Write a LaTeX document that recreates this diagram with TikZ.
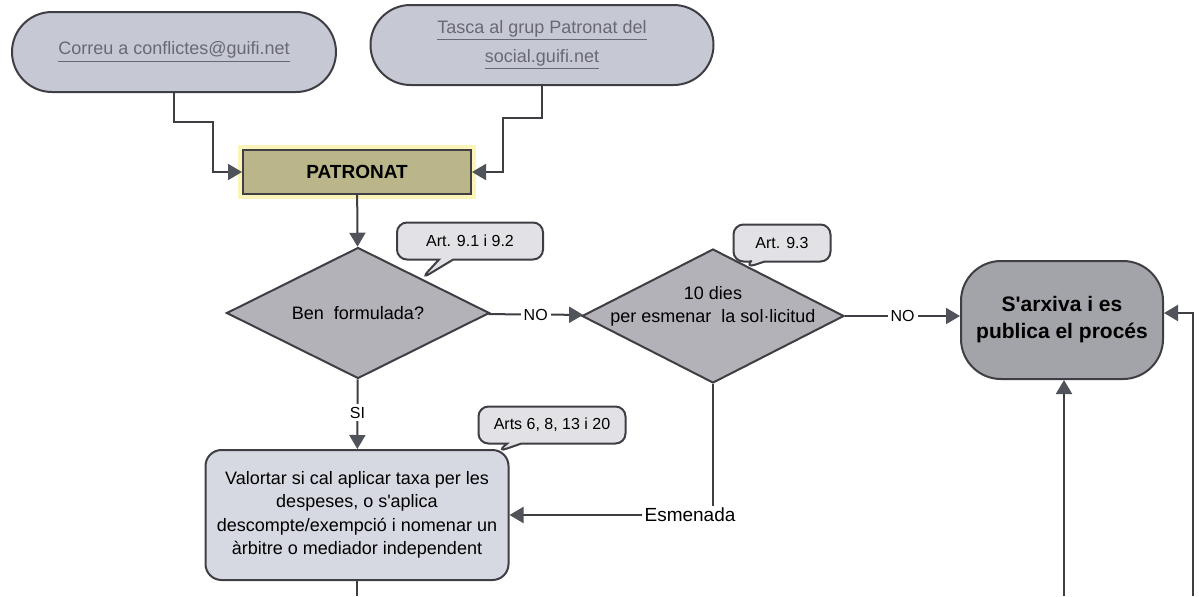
\documentclass[tikz,border=0pt]{standalone}
\usepackage{fontspec}
\setmainfont{Liberation Sans}
\usetikzlibrary{shapes.geometric,shapes.misc,shapes.callouts,arrows.meta}
\definecolor{myoval}{RGB}{198,201,212}
\definecolor{myovaltext}{RGB}{105,105,118}
\definecolor{mykhaki}{RGB}{186,182,138}
\definecolor{myglow}{RGB}{250,244,185}
\definecolor{mydiamond}{RGB}{178,178,184}
\definecolor{mynote}{RGB}{226,226,230}
\definecolor{mybox}{RGB}{214,217,226}
\definecolor{myend}{RGB}{163,163,170}
\definecolor{myline}{RGB}{62,62,68}
\definecolor{mytip}{RGB}{80,83,90}
\newcommand{\px}{0.5pt}
\newcommand{\lnk}[1]{\underline{#1}}
\newcommand{\ap}{\textquotesingle}
\tikzset{
    common/.style={draw=myline, line width=1pt, align=center, inner sep=2pt},
    oval/.style={common, rounded rectangle, fill=myoval, text=myovaltext,
        font=\fontsize{9}{14.5}\selectfont, minimum height=80*\px},
    head/.style={common, rectangle, fill=mykhaki, font=\bfseries\fontsize{9.5}{12}\selectfont,
        minimum width=228*\px, minimum height=44*\px, preaction={draw=myglow, line width=5pt}},
    decision/.style={common, diamond, fill=mydiamond, inner sep=0pt},
    dtext/.style={align=center, font=\fontsize{9}{11.5}\selectfont},
    note/.style={common, rectangle callout, rounded corners=5pt, fill=mynote,
        font=\fontsize{8}{10}\selectfont, minimum height=37*\px},
    task/.style={common, rectangle, rounded corners=8pt, fill=mybox,
        font=\fontsize{9}{11.75}\selectfont, minimum width=303*\px, minimum height=130*\px},
    final/.style={common, rectangle, rounded corners=20pt, fill=myend,
        font=\bfseries\fontsize{10.5}{13.5}\selectfont, minimum width=202*\px, minimum height=118*\px},
    lbl/.style={fill=white, inner sep=1.5pt, font=\fontsize{8}{10}\selectfont},
    arr/.style={draw=myline, line width=1pt, -{Triangle[width=8pt, length=7pt, color=mytip]}},
    con/.style={draw=myline, line width=1pt}
}

\begin{document}
\begin{tikzpicture}[x=\px, y=-\px]
    \useasboundingbox (0,0) rectangle (1199,596);

    \node[oval, minimum width=332*\px] (corr) at (174,52) {\lnk{Correu a conflictes@guifi.net}};
    \node[oval, minimum width=351*\px] (tasca) at (542,45) {\lnk{Tasca al grup Patronat del}\\\lnk{social.guifi.net}};
    \node[head] (pat) at (357,172) {PATRONAT};
    \node[decision, minimum width=263*\px, minimum height=131*\px,
        label={[dtext]center:Ben~ formulada?}] (ben) at (358,313) {};
    \node[decision, minimum width=262*\px, minimum height=134*\px,
        label={[dtext, yshift=10*\px]center:10 dies\\per esmenar~ la sol·licitud}] (dies) at (713,316) {};
    \node[final] (arxiva) at (1062,320) {S\ap arxiva i es\\publica el procés};
    \node[task] (valorar) at (357,515) {Valortar si cal aplicar taxa per les\\despeses, o s\ap aplica\\descompte/exempció i nomenar un\\àrbitre o mediador independent};
    \node[font=\fontsize{9.5}{12}\selectfont, inner sep=1pt] (esm) at (690,515) {Esmenada};

    \node[note, minimum width=146*\px, callout absolute pointer={(421,279)}] (art1) at (470,241) {Art. 9.1 i 9.2};
    \node[note, minimum width=97*\px, callout absolute pointer={(745,268)}] (art2) at (782,243) {Art. 9.3};
    \node[note, minimum width=147*\px, callout absolute pointer={(497,452)}] (art3) at (552,425) {Arts 6, 8, 13 i 20};

    \coordinate (outval) at (357,596);
    \coordinate (inlow) at (1064,596);
    \coordinate (inright) at (1193,596);

    \draw[arr] (corr.south) -- ++(0,29) -| ([xshift=-29*\px]pat.west) -- (pat.west);
    \draw[arr] (tasca.south) -- ++(0,32) -| ([xshift=31*\px]pat.east) -- (pat.east);
    \draw[arr] (pat) -- (ben);
    \draw[arr] (ben) -- node[lbl] {NO} (dies);
    \draw[arr] (dies) -- node[lbl] {NO} (dies -| arxiva.west);
    \draw[arr] (ben) -- node[lbl, pos=0.48] {SI} (valorar);
    \draw[con] (dies.south) -- (dies.south |- esm.north);
    \draw[arr] (esm.west) -- (esm.west -| valorar.east);
    \draw[con] (valorar) -- (outval);
    \draw[arr] (inlow) -- (inlow |- arxiva.south);
    \draw[arr] (inright) |- ([yshift=7*\px]arxiva.east);
\end{tikzpicture}
\end{document}
